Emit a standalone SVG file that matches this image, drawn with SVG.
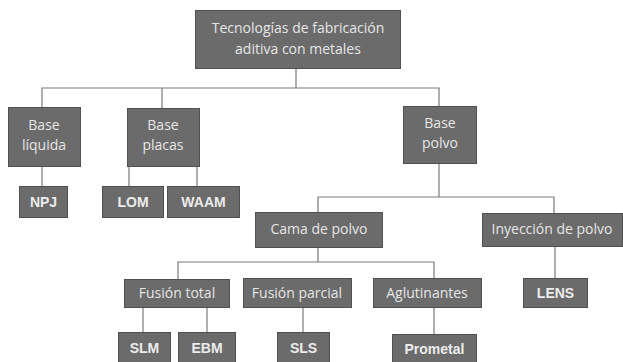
<svg xmlns="http://www.w3.org/2000/svg" width="623" height="362" viewBox="0 0 623 362">
<style>
.b{fill:#6b6b6b;stroke:#505050;stroke-width:1}
.t{font-family:"Open Sans","Liberation Sans",sans-serif;font-size:14px;fill:#e6e6e6;text-anchor:middle}
.k{font-family:"Liberation Sans",sans-serif;font-size:14px;font-weight:bold;fill:#ececec;text-anchor:middle}
.c{fill:none;stroke:#7a7a7a;stroke-width:1.2}
</style>
<rect width="623" height="362" fill="#ffffff"/>
<g id="connectors">
<path class="c" d="M296,68V88M42,107V88H439V106M162,108V88"/>
<path class="c" d="M42,166V186M129,166V186M197,166V186"/>
<path class="c" d="M439,163V197M318,212V197H554V213"/>
<path class="c" d="M318,247V262M178,279V262H434V278"/>
<path class="c" d="M143,307V332M207,307V332M303,307V332M434,307V334M555,246V278"/>
</g>
<g id="root"><rect class="b" x="195.500" y="10.500" width="205" height="58"/><text class="t" x="298" y="33">Tecnologías de fabricación</text><text class="t" x="298" y="54">aditiva con metales</text></g>
<g id="base-liquida"><rect class="b" x="8.500" y="107.500" width="72" height="59"/><text class="t" x="44" y="130">Base</text><text class="t" x="44" y="150">líquida</text></g>
<g id="base-placas"><rect class="b" x="127.500" y="108.500" width="72" height="58"/><text class="t" x="163" y="130">Base</text><text class="t" x="163" y="150">placas</text></g>
<g id="base-polvo"><rect class="b" x="403.500" y="106.500" width="73" height="57"/><text class="t" x="440" y="128">Base</text><text class="t" x="440" y="148">polvo</text></g>
<g id="npj"><rect class="b" x="19.500" y="186.500" width="48" height="31"/><text class="k" x="43.500" y="207">NPJ</text></g>
<g id="lom"><rect class="b" x="102.500" y="186.500" width="61" height="31"/><text class="k" x="133" y="207">LOM</text></g>
<g id="waam"><rect class="b" x="167.500" y="186.500" width="72" height="31"/><text class="k" x="203.500" y="207">WAAM</text></g>
<g id="cama"><rect class="b" x="255.500" y="212.500" width="127" height="35"/><text class="t" x="319" y="234">Cama de polvo</text></g>
<g id="inyeccion"><rect class="b" x="482.500" y="213.500" width="140" height="33"/><text class="t" x="552" y="234">Inyección de polvo</text></g>
<g id="fusion-total"><rect class="b" x="124.500" y="279.500" width="105" height="28"/><text class="t" x="177" y="298">Fusión total</text></g>
<g id="fusion-parcial"><rect class="b" x="243.500" y="278.500" width="108" height="29"/><text class="t" x="297" y="298">Fusión parcial</text></g>
<g id="aglutinantes"><rect class="b" x="373.500" y="278.500" width="108" height="29"/><text class="t" x="427" y="298">Aglutinantes</text></g>
<g id="lens"><rect class="b" x="523.500" y="278.500" width="64" height="29"/><text class="k" x="555.500" y="298">LENS</text></g>
<g id="slm"><rect class="b" x="118.500" y="332.500" width="52" height="30"/><text class="k" x="144.500" y="353">SLM</text></g>
<g id="ebm"><rect class="b" x="178.500" y="332.500" width="57" height="30"/><text class="k" x="207" y="353">EBM</text></g>
<g id="sls"><rect class="b" x="277.500" y="332.500" width="52" height="30"/><text class="k" x="303.500" y="353">SLS</text></g>
<g id="prometal"><rect class="b" x="392.500" y="334.500" width="84" height="28"/><text class="k" x="434.500" y="354">Prometal</text></g>
</svg>
